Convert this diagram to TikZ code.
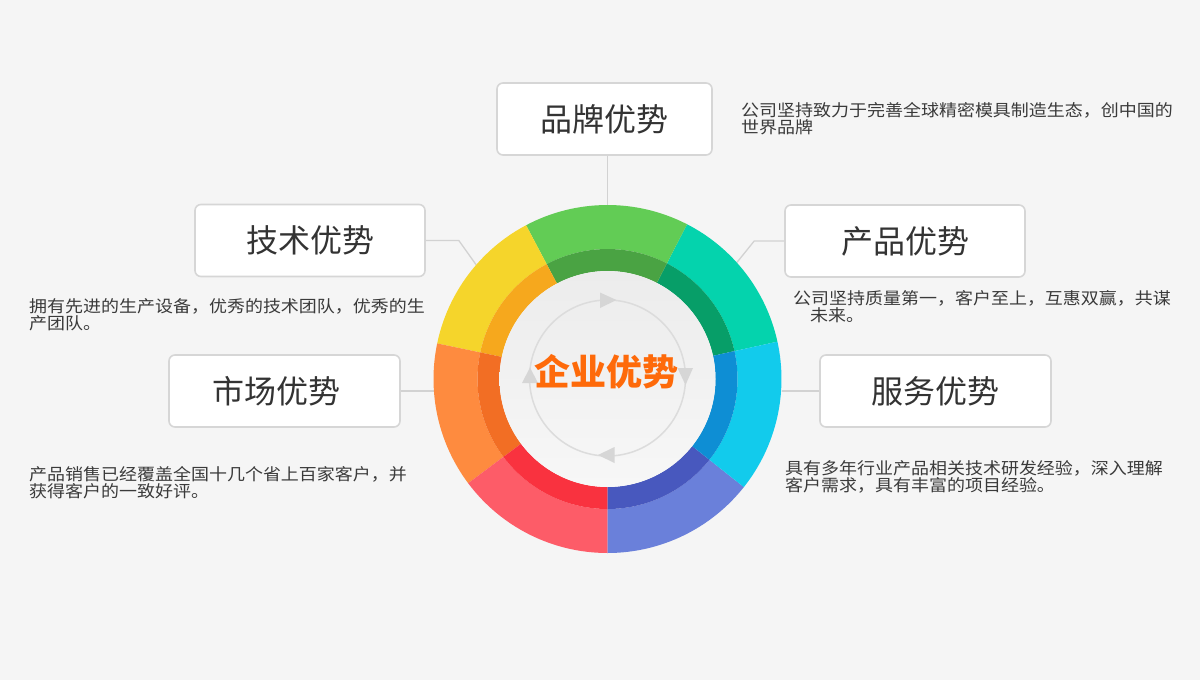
\documentclass[tikz,border=0pt]{standalone}
\usepackage{fontspec}
\newfontfamily\cjk{Noto Sans CJK SC}
\newfontfamily\cjkdesc[FakeStretch=1.09]{Noto Sans CJK SC}
\definecolor{bg}{HTML}{F5F5F5}
\definecolor{boxline}{HTML}{D6D6D6}
\definecolor{linec}{HTML}{D2D2D2}
\definecolor{titlec}{HTML}{333333}
\definecolor{descc}{HTML}{3A3A3A}
\definecolor{corec}{HTML}{FE6A0A}
\definecolor{discA}{HTML}{ECECEC}
\definecolor{discB}{HTML}{F7F7F7}
\definecolor{loopc}{HTML}{DCDCDC}
\definecolor{tric}{HTML}{D6D6D6}
\definecolor{gO}{HTML}{62CC55}\definecolor{gI}{HTML}{4AA343}
\definecolor{tO}{HTML}{04D3AD}\definecolor{tI}{HTML}{079E68}
\definecolor{cO}{HTML}{12CBEC}\definecolor{cI}{HTML}{0E8ED4}
\definecolor{bO}{HTML}{6A80DA}\definecolor{bI}{HTML}{4858BE}
\definecolor{rO}{HTML}{FD5C68}\definecolor{rI}{HTML}{F9323F}
\definecolor{oO}{HTML}{FE8B3F}\definecolor{oI}{HTML}{F26E24}
\definecolor{yO}{HTML}{F5D52B}\definecolor{yI}{HTML}{F6A81D}
\newcommand\ringseg[4]{%
  \fill[#1] (#3:174) arc[start angle=#3,end angle=#4,radius=174] -- (#4:130) arc[start angle=#4,end angle=#3,radius=130] -- cycle;
  \fill[#2] (#3:130) arc[start angle=#3,end angle=#4,radius=130] -- (#4:108) arc[start angle=#4,end angle=#3,radius=108] -- cycle;}
\begin{document}
\begin{tikzpicture}[x=1pt,y=1pt,
  box/.style={draw=boxline, line width=1.6pt, fill=white, rounded corners=6pt, minimum height=72pt, inner sep=0pt,
    font=\cjk\fontsize{32}{36}\selectfont, text=titlec},
  desc/.style={font=\cjkdesc\fontsize{16.5}{17}\selectfont, text=descc, align=left, inner sep=0pt, anchor=north west},
  link/.style={draw=linec, line width=1.3pt}]
\fill[bg] (0,0) rectangle (1200,-680);
\useasboundingbox (0,0) rectangle (1200,-680);

% ring anchor node
\node[circle, minimum size=348pt, inner sep=0pt, outer sep=0pt] (ring) at (607.5,-379) {};

% boxes
\node[box, minimum width=215pt] (brand) at (604.5,-119) {品牌优势};
\node[box, minimum width=230pt] (tech) at (310,-240.5) {技术优势};
\node[box, minimum width=231pt] (market) at (284.5,-391) {\kern-16pt 市场优势};
\node[box, minimum width=240pt] (product) at (905,-241) {产品优势};
\node[box, minimum width=231pt] (service) at (935.5,-391) {服务优势};

% connectors
\draw[link] (ring.north |- brand.south) -- (ring.north);
\draw[link] (tech.east) -- ++(33,0) -- (ring.139);
\draw[link] (product.west) -- ++(-30,0) -- (ring.42);
\draw[link] (market.east) -- (market.east -| ring.west);
\draw[link] (service.west) -- (service.west -| ring.east);

% ring
\begin{scope}[shift={(607.5,-379)}]
  \ringseg{tO}{tI}{12.4}{62.8}
  \ringseg{gO}{gI}{62.8}{117.9}
  \ringseg{yO}{yI}{117.9}{168.2}
  \ringseg{oO}{oI}{168.2}{216.8}
  \ringseg{rO}{rI}{216.8}{270}
  \ringseg{bO}{bI}{270}{321.6}
  \ringseg{cO}{cI}{321.6}{372.4}
  \shade[top color=discA, bottom color=discB] (0,0) circle[radius=108];
\end{scope}

% inner loop with arrowheads
\draw[loopc, line width=1.5pt] (607.5,-378) circle[radius=78];
\fill[tric] (600,-292.5) -- (616.5,-300) -- (600,-308) -- cycle;
\fill[tric] (677.5,-368) -- (693,-368) -- (685.5,-385) -- cycle;
\fill[tric] (598,-455) -- (614.5,-447) -- (614.5,-463) -- cycle;
\fill[tric] (522,-383) -- (538,-383) -- (530,-367.5) -- cycle;

\node[font=\cjk\bfseries\fontsize{36}{40}\selectfont, text=corec] (core) at (606,-372) {企业优势};

% descriptions
\node[desc] (brandtext) at (741,-102) {公司坚持致力于完善全球精密模具制造生态，创中国的\\世界品牌};
\node[desc] (techtext) at (29,-298) {拥有先进的生产设备，优秀的技术团队，优秀的生\\产团队。};
\node[desc] (markettext) at (29,-466) {产品销售已经覆盖全国十几个省上百家客户，并\\获得客户的一致好评。};
\node[desc] (producttext) at (793,-290) {公司坚持质量第一，客户至上，互惠双赢，共谋\\\hspace*{17pt}未来。};
\node[desc] (servicetext) at (785,-460) {具有多年行业产品相关技术研发经验，深入理解\\客户需求，具有丰富的项目经验。};
\end{tikzpicture}
\end{document}
